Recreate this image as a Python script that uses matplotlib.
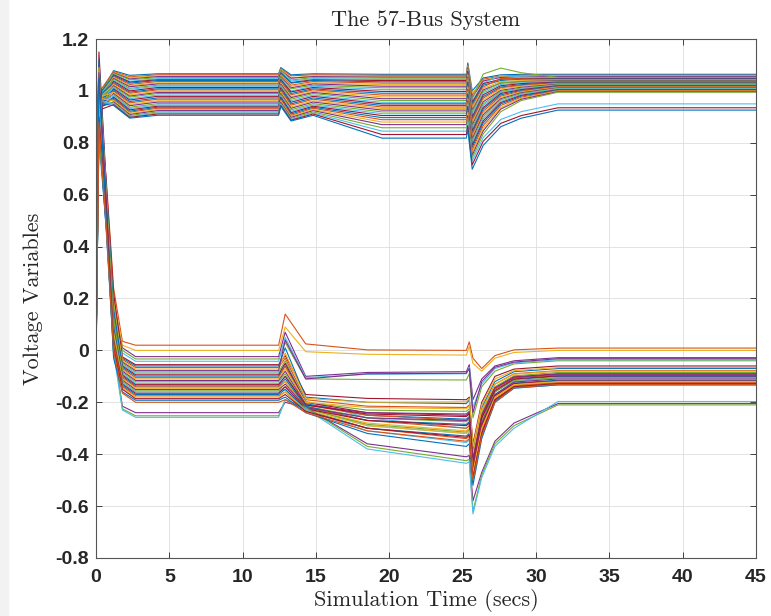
"""
Voltage variables of the 57-bus system over the simulation window.
Saves out.png (771x616).
"""

import numpy as np
import matplotlib
matplotlib.use("Agg")
import matplotlib.pyplot as plt
from matplotlib.patches import Rectangle

# ---- magnitude group (upper band), values at U_TIME key points ----
U_TIME = [0.0, 0.1, 0.4, 1.2, 2.3, 4.2, 12.45, 12.6, 13.3, 14.8, 19.5, 25.25,
          25.35, 25.65, 26.4, 27.6, 29.0, 31.5, 45.0]

U_V0 = [1.02, 1.17, 1.05, 1.00, 1.04, 1.10, 1.01, 1.03, 1.00, 1.06, 1.02, 1.00,
        1.12, 1.04, 1.00, 1.01, 1.03, 1.00, 1.05, 1.02, 1.00, 1.08, 1.01, 1.00,
        1.03, 1.00, 1.02, 1.04, 1.00, 1.01, 1.00, 1.03, 1.00, 1.02, 1.00, 1.01]
U_D0 = [0.82, 0.90, 0.74, 0.88, 0.79, 0.93, 0.70, 0.85, 0.77, 0.91, 0.83, 0.72,
        0.89, 0.80, 0.86, 0.75, 0.92, 0.81, 0.71, 0.87, 0.78, 0.94, 0.84, 0.73,
        0.90, 0.76, 0.88, 0.82, 0.69, 0.86, 0.79, 0.91, 0.74, 0.85, 0.80, 0.77]
U_P04 = [1.00, 1.01, 0.99, 0.98, 1.00, 0.99, 0.97, 1.00, 0.98, 0.99, 0.97, 0.99,
         0.98, 0.96, 0.99, 0.97, 0.98, 0.96, 0.98, 0.97, 0.95, 0.97, 0.96, 0.98,
         0.95, 0.97, 0.96, 0.94, 0.96, 0.95, 0.97, 0.94, 0.95, 0.96, 0.93, 0.95]
U_OS = [1.078, 1.075, 1.072, 1.070, 1.068, 1.064, 1.062, 1.058, 1.055, 1.052,
        1.048, 1.045, 1.040, 1.037, 1.032, 1.028, 1.024, 1.020, 1.016, 1.012,
        1.008, 1.003, 0.999, 0.994, 0.990, 0.985, 0.980, 0.976, 0.971, 0.967,
        0.962, 0.958, 0.954, 0.950, 0.947, 0.944]
U_D23 = [1.060, 1.054, 1.051, 1.046, 1.043, 1.037, 1.034, 1.030, 1.025, 1.020,
         1.016, 1.010, 1.006, 1.000, 0.995, 0.991, 0.985, 0.980, 0.976, 0.970,
         0.965, 0.959, 0.954, 0.948, 0.943, 0.937, 0.932, 0.927, 0.922, 0.918,
         0.913, 0.909, 0.905, 0.901, 0.898, 0.895]
U_SS1 = [1.066, 1.062, 1.058, 1.055, 1.051, 1.047, 1.043, 1.040, 1.036, 1.031,
         1.027, 1.022, 1.018, 1.013, 1.008, 1.004, 0.999, 0.994, 0.990, 0.984,
         0.979, 0.973, 0.968, 0.962, 0.957, 0.951, 0.946, 0.941, 0.937, 0.933,
         0.928, 0.924, 0.919, 0.915, 0.911, 0.906]
U_PK2 = [1.090, 1.085, 1.082, 1.078, 1.080, 1.072, 1.070, 1.068, 1.062, 1.060,
         1.055, 1.052, 1.046, 1.044, 1.040, 1.036, 1.030, 1.026, 1.022, 1.016,
         1.012, 1.006, 1.000, 0.996, 0.990, 0.986, 0.980, 0.976, 0.970, 0.966,
         0.962, 0.956, 0.952, 0.948, 0.944, 0.940]
U_M133 = [1.062, 1.058, 1.050, 1.049, 1.042, 1.038, 1.032, 1.030, 1.022, 1.018,
          1.012, 1.008, 1.000, 0.996, 0.990, 0.985, 0.978, 0.974, 0.968, 0.962,
          0.956, 0.950, 0.945, 0.938, 0.933, 0.927, 0.921, 0.916, 0.911, 0.906,
          0.902, 0.898, 0.894, 0.890, 0.887, 0.884]
U_SS2 = [1.064, 1.060, 1.056, 1.053, 1.049, 1.044, 1.040, 1.035, 1.030, 1.024,
         1.018, 1.012, 1.005, 0.998, 0.991, 0.984, 0.977, 0.970, 0.963, 0.956,
         0.950, 0.944, 0.938, 0.932, 0.926, 0.919, 0.912, 0.905, 0.897, 0.889,
         0.880, 0.870, 0.858, 0.845, 0.832, 0.818]
U_PK3 = [1.108, 1.100, 1.095, 1.090, 1.085, 1.080, 1.076, 1.070, 1.066, 1.060,
         1.054, 1.048, 1.040, 1.034, 1.028, 1.020, 1.014, 1.006, 1.000, 0.994,
         0.988, 0.980, 0.974, 0.968, 0.962, 0.955, 0.948, 0.940, 0.932, 0.924,
         0.916, 0.905, 0.894, 0.880, 0.866, 0.852]
U_DIP3 = [1.000, 0.985, 0.990, 0.975, 0.968, 0.960, 0.955, 0.948, 0.940, 0.935,
          0.925, 0.918, 0.910, 0.900, 0.892, 0.885, 0.876, 0.868, 0.860, 0.852,
          0.845, 0.838, 0.830, 0.822, 0.815, 0.806, 0.798, 0.790, 0.782, 0.772,
          0.762, 0.752, 0.742, 0.730, 0.715, 0.698]
U_R1 = [1.050, 1.045, 1.040, 1.038, 1.065, 1.030, 1.028, 1.022, 1.015, 1.010,
        1.004, 0.998, 0.992, 0.985, 0.978, 0.972, 0.965, 0.958, 0.950, 0.944,
        0.936, 0.930, 0.922, 0.915, 0.908, 0.900, 0.892, 0.884, 0.876, 0.866,
        0.856, 0.846, 0.834, 0.820, 0.806, 0.790]
U_R2 = [1.062, 1.058, 1.055, 1.052, 1.088, 1.060, 1.045, 1.040, 1.048, 1.036,
        1.030, 1.032, 1.025, 1.020, 1.015, 1.012, 1.008, 1.002, 0.998, 0.994,
        0.990, 0.985, 0.980, 0.975, 0.970, 0.966, 0.960, 0.955, 0.950, 0.944,
        0.936, 0.930, 0.920, 0.890, 0.875, 0.862]
U_R3 = [1.064, 1.060, 1.057, 1.054, 1.070, 1.054, 1.048, 1.045, 1.046, 1.040,
        1.036, 1.035, 1.031, 1.028, 1.024, 1.021, 1.018, 1.014, 1.011, 1.008,
        1.005, 1.002, 0.999, 0.996, 0.993, 0.990, 0.987, 0.983, 0.980, 0.976,
        0.972, 0.968, 0.963, 0.920, 0.905, 0.895]
U_FIN = [1.064, 1.060, 1.058, 1.055, 1.052, 1.050, 1.048, 1.046, 1.044, 1.042,
         1.040, 1.038, 1.036, 1.034, 1.032, 1.030, 1.028, 1.026, 1.024, 1.022,
         1.020, 1.018, 1.016, 1.014, 1.012, 1.010, 1.008, 1.005, 1.003, 1.001,
         0.999, 0.997, 0.995, 0.950, 0.935, 0.926]

# ---- angle group (lower band), values at L_TIME key points ----
L_TIME = [0.0, 0.2, 0.7, 1.2, 1.8, 2.7, 12.45, 12.9, 14.3, 18.5, 25.25,
          25.45, 25.7, 26.3, 27.2, 28.5, 31.5, 45.0]

L_V0 = [-0.02, -0.08, 0.00, -0.05, 0.02, -0.03, 0.00, -0.06, -0.01, 0.01, -0.04, 0.00,
        -0.07, -0.02, 0.00, -0.05, 0.01, -0.03, 0.00, -0.06, -0.01, 0.00, -0.04, -0.02,
        0.00, -0.08, 0.01, -0.03, 0.00, -0.05, -0.02, 0.00, -0.04, -0.01, 0.00, -0.06]
L_PK0 = [0.95, 1.10, 0.88, 1.02, 0.92, 1.15, 0.85, 0.98, 1.05, 0.90, 1.08, 0.83,
         0.96, 1.12, 0.87, 1.00, 0.93, 1.06, 0.80, 0.97, 1.03, 0.89, 1.09, 0.84,
         0.99, 0.91, 1.04, 0.86, 1.01, 0.94, 1.07, 0.82, 0.98, 0.90, 1.05, 0.88]
L_A07 = [0.66, 0.60, 0.58, 0.62, 0.55, 0.64, 0.52, 0.57, 0.61, 0.54, 0.59, 0.50,
         0.56, 0.63, 0.53, 0.58, 0.51, 0.60, 0.48, 0.55, 0.57, 0.49, 0.59, 0.47,
         0.54, 0.50, 0.56, 0.46, 0.53, 0.49, 0.58, 0.52, 0.50, 0.55, 0.51, 0.48]
L_A12 = [0.24, 0.20, 0.15, 0.18, 0.12, 0.22, 0.10, 0.14, 0.17, 0.09, 0.13, 0.07,
         0.11, 0.16, 0.06, 0.10, 0.04, 0.12, 0.03, 0.08, 0.09, 0.02, 0.07, 0.01,
         0.05, 0.00, 0.04, -0.01, 0.03, -0.02, 0.00, 0.02, -0.01, 0.01, -0.03, 0.00]
L_A18 = [0.035, 0.020, 0.010, 0.000, -0.010, -0.025, -0.030, -0.035, -0.040, -0.045,
         -0.050, -0.055, -0.060, -0.065, -0.070, -0.075, -0.080, -0.085, -0.090, -0.095,
         -0.100, -0.105, -0.110, -0.115, -0.120, -0.125, -0.130, -0.135, -0.140, -0.145,
         -0.215, -0.225, -0.230, -0.150, -0.160, -0.165]
L_SS1 = [0.020, 0.000, -0.024, -0.033, -0.042, -0.055, -0.060, -0.066, -0.072, -0.078,
         -0.083, -0.088, -0.094, -0.099, -0.105, -0.110, -0.116, -0.121, -0.127, -0.132,
         -0.137, -0.141, -0.146, -0.151, -0.156, -0.160, -0.165, -0.170, -0.175, -0.180,
         -0.240, -0.252, -0.258, -0.186, -0.192, -0.200]
L_PK2 = [0.140, 0.090, 0.070, 0.030, 0.050, -0.020, 0.010, -0.030, -0.010, 0.040,
         -0.040, -0.050, -0.050, -0.060, -0.060, -0.070, -0.080, -0.090, -0.100, -0.100,
         -0.110, -0.120, -0.120, -0.130, -0.140, -0.150, -0.140, -0.150, -0.160, -0.160,
         -0.200, -0.190, -0.190, -0.170, -0.180, -0.190]
L_M14 = [0.025, -0.005, -0.100, -0.110, -0.105, -0.170, -0.180, -0.190, -0.185, -0.110,
         -0.200, -0.195, -0.200, -0.205, -0.210, -0.200, -0.210, -0.215, -0.220, -0.210,
         -0.215, -0.220, -0.225, -0.220, -0.225, -0.230, -0.225, -0.230, -0.235, -0.230,
         -0.220, -0.220, -0.225, -0.235, -0.240, -0.240]
L_M185 = [0.002, -0.015, -0.085, -0.112, -0.092, -0.185, -0.200, -0.215, -0.200, -0.090,
          -0.230, -0.260, -0.240, -0.250, -0.250, -0.220, -0.240, -0.260, -0.290, -0.245,
          -0.270, -0.270, -0.280, -0.260, -0.285, -0.310, -0.270, -0.300, -0.300, -0.290,
          -0.360, -0.370, -0.380, -0.300, -0.320, -0.310]
L_SS2 = [0.000, -0.018, -0.082, -0.114, -0.090, -0.190, -0.205, -0.220, -0.198, -0.088,
         -0.235, -0.300, -0.250, -0.265, -0.270, -0.225, -0.245, -0.275, -0.320, -0.255,
         -0.285, -0.300, -0.310, -0.270, -0.315, -0.355, -0.290, -0.330, -0.340, -0.320,
         -0.410, -0.425, -0.435, -0.335, -0.370, -0.350]
L_PK3 = [0.033, 0.015, -0.055, -0.090, -0.065, -0.180, -0.190, -0.210, -0.185, -0.070,
         -0.225, -0.290, -0.240, -0.255, -0.260, -0.215, -0.235, -0.265, -0.310, -0.245,
         -0.275, -0.290, -0.300, -0.260, -0.305, -0.345, -0.280, -0.320, -0.330, -0.310,
         -0.405, -0.420, -0.430, -0.325, -0.360, -0.340]
L_DIP3 = [-0.030, -0.050, -0.190, -0.260, -0.220, -0.360, -0.390, -0.400, -0.370, -0.240,
          -0.410, -0.450, -0.420, -0.440, -0.430, -0.400, -0.420, -0.440, -0.470, -0.430,
          -0.460, -0.450, -0.460, -0.440, -0.480, -0.500, -0.460, -0.490, -0.480, -0.470,
          -0.580, -0.620, -0.630, -0.490, -0.520, -0.500]
L_R1 = [-0.070, -0.080, -0.110, -0.140, -0.130, -0.200, -0.220, -0.230, -0.210, -0.120,
        -0.240, -0.290, -0.250, -0.270, -0.260, -0.230, -0.250, -0.270, -0.300, -0.260,
        -0.290, -0.290, -0.300, -0.280, -0.310, -0.330, -0.290, -0.320, -0.310, -0.300,
        -0.470, -0.480, -0.490, -0.320, -0.340, -0.330]
L_R2 = [-0.020, -0.030, -0.060, -0.080, -0.070, -0.100, -0.120, -0.130, -0.110, -0.065,
        -0.140, -0.170, -0.145, -0.160, -0.150, -0.130, -0.145, -0.160, -0.180, -0.155,
        -0.175, -0.180, -0.185, -0.170, -0.190, -0.200, -0.175, -0.195, -0.190, -0.180,
        -0.350, -0.360, -0.370, -0.190, -0.200, -0.200]
L_R3 = [0.002, -0.008, -0.040, -0.052, -0.048, -0.072, -0.082, -0.090, -0.078, -0.045,
        -0.098, -0.120, -0.102, -0.112, -0.106, -0.092, -0.104, -0.116, -0.132, -0.110,
        -0.126, -0.134, -0.138, -0.122, -0.142, -0.146, -0.128, -0.142, -0.138, -0.132,
        -0.280, -0.290, -0.300, -0.140, -0.145, -0.144]
L_FIN = [0.009, 0.000, -0.028, -0.040, -0.036, -0.060, -0.070, -0.078, -0.066, -0.032,
         -0.085, -0.105, -0.090, -0.100, -0.095, -0.080, -0.092, -0.105, -0.120, -0.098,
         -0.115, -0.125, -0.128, -0.110, -0.130, -0.133, -0.118, -0.130, -0.125, -0.120,
         -0.205, -0.210, -0.197, -0.128, -0.133, -0.131]

X_TICKS = [0, 5, 10, 15, 20, 25, 30, 35, 40, 45]
Y_TICKS = [-0.8, -0.6, -0.4, -0.2, 0.0, 0.2, 0.4, 0.6, 0.8, 1.0, 1.2]
Y_TICK_LABELS = ["-0.8", "-0.6", "-0.4", "-0.2", "0", "0.2", "0.4", "0.6",
                 "0.8", "1", "1.2"]

MATLAB_COLORS = ["#0072BD", "#D95319", "#EDB120", "#7E2F8E",
                 "#77AC30", "#4DBEEE", "#A2142F"]


def main():
    upper = np.column_stack([U_V0, U_D0, U_P04, U_OS, U_D23, U_SS1, U_SS1,
                             U_PK2, U_M133, U_SS1, U_SS2, U_SS2, U_PK3, U_DIP3,
                             U_R1, U_R2, U_R3, U_FIN, U_FIN])
    lower = np.column_stack([L_V0, L_PK0, L_A07, L_A12, L_A18, L_SS1, L_SS1,
                             L_PK2, L_M14, L_M185, L_SS2, L_PK3, L_DIP3, L_R1,
                             L_R2, L_R3, L_FIN, L_FIN])

    fig = plt.figure(figsize=(7.71, 6.16), dpi=100)
    fig.patches.append(Rectangle((0, 0), 8 / 771, 1, transform=fig.transFigure,
                                 color="#f2f2f2", zorder=-1))
    ax = fig.add_axes([96 / 771, 58 / 616, 660 / 771, 519 / 616])

    for i, row in enumerate(upper):
        ax.plot(U_TIME, row, color=MATLAB_COLORS[i % 7], linewidth=0.8)
    for i, row in enumerate(lower):
        ax.plot(L_TIME, row, color=MATLAB_COLORS[(i + 1) % 7], linewidth=0.8)

    ax.set_xlim(0, 45)
    ax.set_ylim(-0.8, 1.2)
    ax.set_xticks(X_TICKS)
    ax.set_xticklabels([str(x) for x in X_TICKS])
    ax.set_yticks(Y_TICKS)
    ax.set_yticklabels(Y_TICK_LABELS)

    for lab in ax.get_xticklabels() + ax.get_yticklabels():
        lab.set_fontfamily("Liberation Sans")
        lab.set_fontweight("bold")
        lab.set_fontsize(14)

    ax.grid(True, color="#dedede", linewidth=0.6)
    ax.set_axisbelow(True)
    ax.tick_params(direction="in", length=4.5, width=0.6, colors="#262626",
                   top=True, right=True)
    ax.tick_params(axis="x", pad=8)
    ax.tick_params(axis="y", pad=5)
    for sp in ax.spines.values():
        sp.set_color("#555555")
        sp.set_linewidth(0.8)

    serif = {"family": "cmr10", "size": 16, "color": "#262626"}
    ax.set_title("The 57-Bus System", fontdict=serif, pad=9)
    ax.set_xlabel("Simulation Time (secs)", fontdict=serif, labelpad=2)
    ax.set_ylabel("Voltage Variables", fontdict=serif, labelpad=9)

    fig.savefig("out.png", dpi=100)
    plt.close(fig)


if __name__ == "__main__":
    main()
